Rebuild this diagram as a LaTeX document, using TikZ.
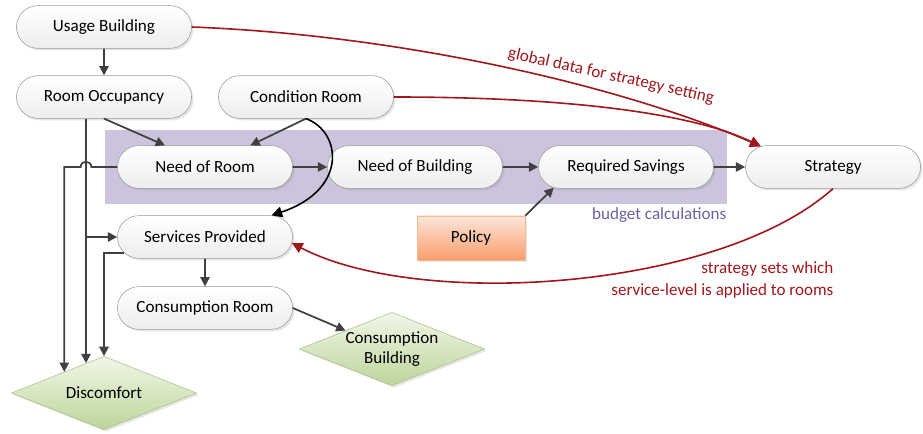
\documentclass[tikz,border=0pt]{standalone}
\usepackage{fontspec}
\setmainfont{Carlito}
\usetikzlibrary{arrows.meta,shapes.misc,shapes.geometric,shadows}

\definecolor{darkred}{HTML}{A0171C}
\definecolor{bandfill}{HTML}{CCC4DD}
\definecolor{bandtext}{HTML}{6F5FA0}
\definecolor{linegray}{HTML}{404040}
\definecolor{pillborder}{HTML}{9A9A9A}
\definecolor{greentop}{HTML}{F1F6E8}
\definecolor{greenbot}{HTML}{BCD59A}
\definecolor{greenborder}{HTML}{A8BF88}
\definecolor{policytop}{HTML}{FDE6DA}
\definecolor{policybot}{HTML}{F99E6B}
\definecolor{policyborder}{HTML}{F4B894}

\tikzset{
  pill/.style={rounded rectangle, draw=pillborder, top color=white, bottom color=gray!14,
    minimum width=138pt, minimum height=32pt,
    drop shadow={opacity=0.2, shadow xshift=1.5pt, shadow yshift=-1.5pt}},
  result/.style={diamond, draw=greenborder, top color=greentop, bottom color=greenbot,
    inner sep=0pt, aspect=2.5, minimum width=139pt, minimum height=55pt, align=center,
    font=\fontsize{12.8}{15}\selectfont,
    drop shadow={opacity=0.2, shadow xshift=1.5pt, shadow yshift=-1.5pt}},
  policybox/.style={rectangle, draw=policyborder, top color=policytop, bottom color=policybot,
    minimum width=81pt, minimum height=33pt,
    drop shadow={opacity=0.2, shadow xshift=1.5pt, shadow yshift=-1.5pt}},
  flow/.style={draw=linegray, line width=1.3pt, -{Triangle[length=7pt,width=7pt]}},
  redflow/.style={draw=darkred, line width=1.2pt, -{Triangle[length=8pt,width=8pt]}},
  blackflow/.style={draw=black, line width=1.2pt, -{Triangle[length=8pt,width=8pt]}},
  redlabel/.style={text=darkred}
}

\begin{document}
\begin{tikzpicture}[x=0.75pt, y=-0.75pt, font=\fontsize{12.8}{16.5}\selectfont]
  \useasboundingbox (0,0) rectangle (923,434);

  % Budget band behind the calculation steps
  \fill[bandfill] (105,130) rectangle (727,204);
  \node[anchor=north east, text=bandtext, inner sep=1pt] (bandlabel) at (728,206) {budget calculations};

  % Nodes
  \node[pill] (usage) at (104,27) {Usage Building};
  \node[pill] (occ) at (104,97) {Room Occupancy};
  \node[pill] (cond) at (306,97) {Condition Room};
  \node[pill] (nor) at (205,167) {Need of Room};
  \node[pill] (nob) at (415,167) {Need of Building};
  \node[pill] (rs) at (626,167) {Required Savings};
  \node[pill] (strat) at (833,167) {Strategy};
  \node[pill] (svc) at (205,237) {Services Provided};
  \node[pill] (cons) at (205,308) {Consumption Room};
  \node[policybox] (policy) at (471,238) {Policy};
  \node[result] (disc) at (104,393) {Discomfort};
  \node[result] (cb) at (392,349) {Consumption\\Building};

  % Gray connectors
  \draw[flow] (usage) -- (occ);
  \draw[flow] (occ.south) -- ([xshift=-30pt]nor.north);
  \draw[flow] (cond.south) -- ([xshift=34pt]nor.north);
  \draw[flow] (nor) -- (nob);
  \draw[flow] (nob) -- (rs);
  \draw[flow] (rs) -- (strat);
  \draw[flow] (policy.north east) -- (rs.196);
  \draw[flow] (svc) -- (cons);
  \draw[flow] (cons.east) -- (cb.north west);

  % Lines down to discomfort
  \coordinate (occdrop) at ([xshift=-13.5pt]occ.south);
  \draw[flow] (occdrop) -- (occdrop |- disc.121);
  \draw[flow] (occdrop |- svc.west) -- (svc.west);
  \draw[flow] (nor.west) -- ([xshift=4pt]occdrop |- nor.west)
      .. controls +(0,-7) and +(0,-7) .. ([xshift=-4pt]occdrop |- nor.west) -| (disc.152);
  \draw[flow] (svc.191) -| (disc.north);

  % Condition room feeds services directly
  \draw[blackflow] (cond.south) .. controls (342,132) and (348,190) .. (svc.18);

  % Strategy loop
  \draw[redflow] (usage.east) .. controls (400,35) and (620,85) .. (strat.164);
  \draw[redflow] (cond.east) .. controls (560,97) and (690,112) .. (strat.164);
  \draw[redflow] (strat.south) .. controls (720,290) and (420,310) .. (svc.-4);
  \node[redlabel, rotate=-12.5, inner sep=1pt] (glabel) at (611,76) {global data for strategy setting};
  \node[redlabel, align=right, anchor=north east, inner sep=1pt] (slabel) at (835,260)
      {strategy sets which\\service-level is applied to rooms};
\end{tikzpicture}
\end{document}
